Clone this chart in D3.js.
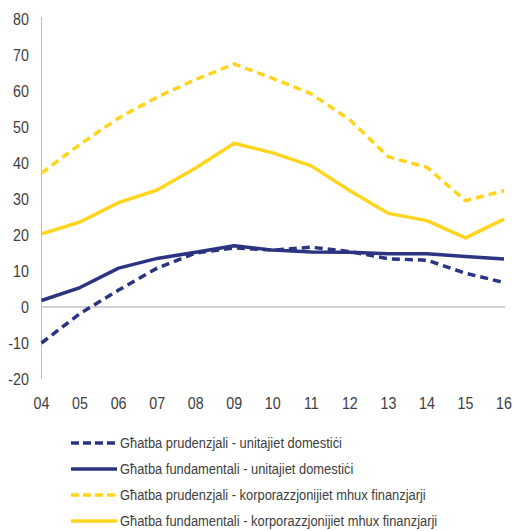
<!DOCTYPE html>
<html><head><meta charset="utf-8">
<script src="https://cdn.jsdelivr.net/npm/d3@7"></script>
<style>
body{margin:0;background:#fff;}
text{font-family:"Liberation Sans Narrow","Arial Narrow","Liberation Sans",sans-serif;fill:#404040;}
</style></head>
<body><svg id="c" width="513" height="531"></svg>
<script>
const years = ["04","05","06","07","08","09","10","11","12","13","14","15","16"];
const hhPrudential = [-10, -1.8, 4.7, 10.8, 15, 16.4, 15.8, 16.6, 15.4, 13.4, 13.0, 9.4, 6.8];
const hhFundamental = [1.8, 5.4, 10.8, 13.5, 15.2, 17, 15.8, 15.3, 15.2, 14.8, 14.8, 14.0, 13.3];
const nfcPrudential = [37.2, 45.2, 52.5, 58.3, 63.2, 67.5, 63.5, 59.2, 52, 41.7, 38.8, 29.5, 32.3];
const nfcFundamental = [20.3, 23.6, 29, 32.5, 38.6, 45.5, 42.8, 39.2, 32.3, 26, 24, 19.2, 24.4];
const yTicks = [-20,-10,0,10,20,30,40,50,60,70,80];
const seriesNames = [
  "Għatba prudenzjali - unitajiet domestiċi",
  "Għatba fundamentali - unitajiet domestiċi",
  "Għatba prudenzjali - korporazzjonijiet mhux finanzjarji",
  "Għatba fundamentali - korporazzjonijiet mhux finanzjarji"
];
const navy = "#2b3480", yellow = "#ffd51f";
const series = [
  {name: seriesNames[0], values: hhPrudential, color: navy, dash: "8,5"},
  {name: seriesNames[1], values: hhFundamental, color: navy, dash: null},
  {name: seriesNames[2], values: nfcPrudential, color: yellow, dash: "8,5"},
  {name: seriesNames[3], values: nfcFundamental, color: yellow, dash: null}
];

const svg = d3.select("#c");
const x = d3.scalePoint().domain(years).range([41.5, 504]);
const y = d3.scaleLinear().domain([-20, 80]).range([379, 19]);

svg.append("line").attr("x1", 41.5).attr("x2", 41.5).attr("y1", y(80)-2).attr("y2", y(-20))
  .attr("stroke", "#bfbfbf").attr("stroke-width", 1);
svg.append("line").attr("x1", 41.5).attr("x2", 505).attr("y1", y(0)).attr("y2", y(0))
  .attr("stroke", "#a6a6a6").attr("stroke-width", 1);

svg.selectAll(".yt").data(yTicks).enter().append("text")
  .attr("transform", d => `translate(29,${y(d)}) scale(0.84,1)`).attr("dy", "0.36em")
  .attr("text-anchor", "end").attr("font-size", 17).text(d => d);

svg.selectAll(".xt").data(years).enter().append("text")
  .attr("transform", d => `translate(${x(d)},403) scale(0.84,1)`).attr("dy", "0.36em")
  .attr("text-anchor", "middle").attr("font-size", 17).text(d => d);

const line = d3.line().x((d, i) => x(years[i])).y(d => y(d));

[series[3], series[2], series[1], series[0]].forEach(s => {
  svg.append("path").datum(s.values).attr("d", line)
    .attr("fill", "none").attr("stroke", s.color).attr("stroke-width", 3.5)
    .attr("stroke-dasharray", s.dash).attr("stroke-linejoin", "round");
});

const leg = svg.append("g");
series.forEach((s, i) => {
  const ly = 443 + i * 26;
  leg.append("line").attr("x1", 71).attr("x2", 117).attr("y1", ly).attr("y2", ly)
    .attr("stroke", s.color).attr("stroke-width", 3.5).attr("stroke-dasharray", s.dash ? "8,4" : null);
  leg.append("text").attr("transform", `translate(120,${ly}) scale(0.86,1)`).attr("dy", "0.36em")
    .attr("font-size", 15).text(s.name);
});
</script></body></html>
